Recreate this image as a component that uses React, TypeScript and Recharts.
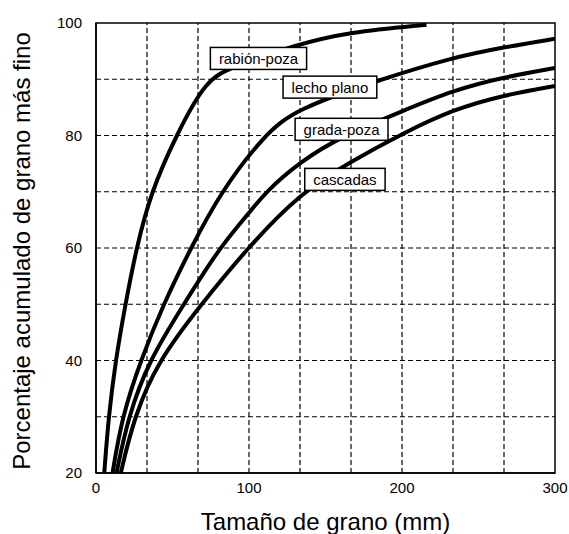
import React from 'react'
import {
  LineChart,
  Line,
  XAxis,
  YAxis,
  ReferenceLine,
  ReferenceArea,
  ReferenceDot,
  Label,
} from 'recharts'

// curves: [grain size (mm), cumulative % finer]
const rabionPoza = [
  { x: 5.4, y: 20 },
  { x: 8.2, y: 30 },
  { x: 12.8, y: 40 },
  { x: 19.2, y: 50 },
  { x: 26.4, y: 60 },
  { x: 36, y: 70 },
  { x: 52.4, y: 80 },
  { x: 72, y: 90 },
  { x: 89.5, y: 92.2 },
  { x: 130, y: 96.1 },
  { x: 165, y: 98.4 },
  { x: 216, y: 99.7 },
]
const lechoPlano = [
  { x: 10.8, y: 20 },
  { x: 17, y: 30 },
  { x: 29.2, y: 40 },
  { x: 44, y: 50 },
  { x: 62, y: 60 },
  { x: 81.6, y: 70 },
  { x: 109.7, y: 80 },
  { x: 130, y: 84.6 },
  { x: 184, y: 89.8 },
  { x: 232, y: 93.8 },
  { x: 266.7, y: 95.7 },
  { x: 300, y: 97.2 },
]
const gradaPoza = [
  { x: 13.4, y: 20 },
  { x: 21, y: 30 },
  { x: 34.6, y: 40 },
  { x: 57.4, y: 50 },
  { x: 80.5, y: 60 },
  { x: 100, y: 66.2 },
  { x: 111, y: 70 },
  { x: 133.3, y: 75.3 },
  { x: 160, y: 79.8 },
  { x: 200, y: 84.3 },
  { x: 233, y: 88 },
  { x: 266.7, y: 90.4 },
  { x: 300, y: 92 },
]
const cascadas = [
  { x: 16.2, y: 20 },
  { x: 24.9, y: 30 },
  { x: 40.7, y: 40 },
  { x: 68.8, y: 50 },
  { x: 99, y: 60 },
  { x: 133.3, y: 69.7 },
  { x: 166, y: 75.3 },
  { x: 200, y: 80.3 },
  { x: 233, y: 84.6 },
  { x: 266.7, y: 87.2 },
  { x: 300, y: 88.8 },
]

const series = [rabionPoza, lechoPlano, gradaPoza, cascadas]

// boxed curve labels, centred at data coordinates
const labelTexts = ['rabión-poza', 'lecho plano', 'grada-poza', 'cascadas']
const labelX = [106.2, 152.9, 160.5, 162.7]
const labelY = [93.7, 88.6, 81.1, 72.2]

const xTicks = [0, 100, 200, 300]
const yTicks = [20, 40, 60, 80, 100]
const gridX = [33.33, 66.67, 100, 133.33, 166.67, 200, 233.33, 266.67]
const gridY = [30, 40, 50, 60, 70, 80, 90]

const FONT = '"Liberation Sans", Arial, Helvetica, sans-serif'

function measure(text: string, size: number) {
  const ctx = document.createElement('canvas').getContext('2d')
  if (!ctx) return text.length * size * 0.5
  ctx.font = `${size}px ${FONT}`
  return ctx.measureText(text).width
}

function BoxLabel(props: any) {
  const { cx, cy, text } = props
  const w = measure(text, 15) + 17
  const h = 22
  return (
    <g>
      <rect
        x={cx - w / 2}
        y={cy - h / 2}
        width={w}
        height={h}
        fill="#fff"
        stroke="#000"
        strokeWidth={1.5}
      />
      <text
        x={cx}
        y={cy + 5.5}
        textAnchor="middle"
        fontSize={15}
        fontFamily={FONT}
        fill="#000"
      >
        {text}
      </text>
    </g>
  )
}

function XTitle(props: any) {
  const vb = props.viewBox
  return (
    <text
      x={vb.x + vb.width / 2}
      y={vb.y + 57}
      textAnchor="middle"
      fontSize={24}
      fontFamily={FONT}
      fill="#000"
    >
      Tamaño de grano (mm)
    </text>
  )
}

function YTitle(props: any) {
  const vb = props.viewBox
  const x = vb.x + 30
  const y = vb.y + vb.height / 2 + 3
  return (
    <text
      x={x}
      y={y}
      transform={`rotate(-90 ${x} ${y})`}
      textAnchor="middle"
      fontSize={24}
      fontFamily={FONT}
      fill="#000"
    >
      Porcentaje acumulado de grano más fino
    </text>
  )
}

export default function App() {
  return (
    <div
      style={{
        position: 'absolute',
        left: 0,
        top: 0,
        width: 569,
        height: 534,
        overflow: 'hidden',
        fontFamily: FONT,
      }}
    >
      <LineChart
        width={569}
        height={534}
        margin={{ top: 23, right: 14, bottom: 0, left: 0 }}
      >
        <XAxis
          type="number"
          dataKey="x"
          domain={[0, 300]}
          ticks={xTicks}
          allowDataOverflow
          height={61}
          tickLine={false}
          tickSize={6}
          tickMargin={3}
          axisLine={{ stroke: '#000', strokeWidth: 1.5 }}
          tick={{ fill: '#000', fontSize: 15, fontFamily: FONT }}
        >
          <Label content={<XTitle />} />
        </XAxis>
        <YAxis
          type="number"
          dataKey="y"
          domain={[20, 100]}
          ticks={yTicks}
          allowDataOverflow
          width={96}
          tickLine={false}
          tickSize={6}
          tickMargin={8}
          axisLine={{ stroke: '#000', strokeWidth: 1.5 }}
          tick={{ fill: '#000', fontSize: 15, fontFamily: FONT }}
        >
          <Label content={<YTitle />} />
        </YAxis>
        {gridX.map((v) => (
          <ReferenceLine
            key={'gx' + v}
            x={v}
            stroke="#000"
            strokeWidth={1.2}
            strokeDasharray="5 3"
          />
        ))}
        {gridY.map((v) => (
          <ReferenceLine
            key={'gy' + v}
            y={v}
            stroke="#000"
            strokeWidth={1.2}
            strokeDasharray="5 3"
          />
        ))}
        {series.map((d, i) => (
          <Line
            key={labelTexts[i]}
            data={d}
            dataKey="y"
            type="basis"
            stroke="#000"
            strokeWidth={4}
            dot={false}
            activeDot={false}
            isAnimationActive={false}
          />
        ))}
        <ReferenceArea
          x1={0}
          x2={300}
          y1={20}
          y2={100}
          fill="none"
          fillOpacity={0}
          stroke="#000"
          strokeWidth={1.5}
        />
        {labelTexts.map((t, i) => (
          <ReferenceDot
            key={t}
            x={labelX[i]}
            y={labelY[i]}
            shape={(p: any) => <BoxLabel {...p} text={t} />}
          />
        ))}
      </LineChart>
    </div>
  )
}
